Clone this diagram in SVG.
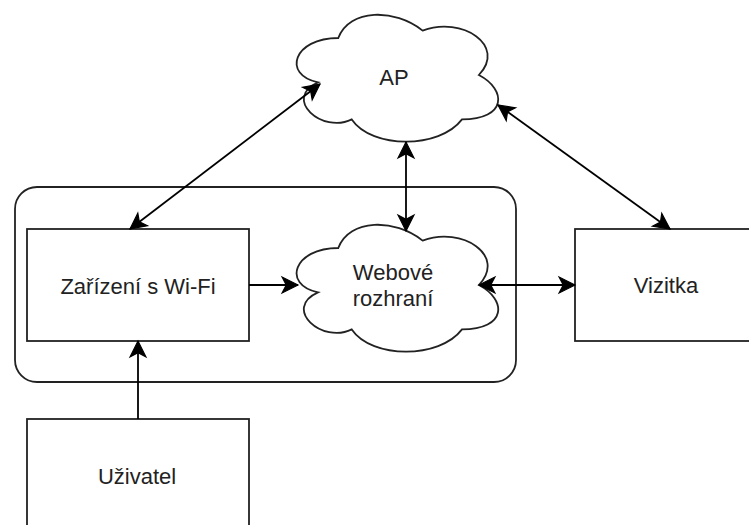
<svg xmlns="http://www.w3.org/2000/svg" width="749" height="525" viewBox="0 0 749 525">
<defs>
<style>
.box{fill:#fff;stroke:#222;stroke-width:1.8}
.cont{fill:none;stroke:#222;stroke-width:1.8}
.cloud{fill:#fff;stroke:#222;stroke-width:1.8}
.lbl{font-family:"Liberation Sans",Arial,sans-serif;font-size:22px;fill:#222;text-anchor:middle}
.edge{fill:none;stroke:#000;stroke-width:1.8}
</style>
<marker id="arr" markerUnits="userSpaceOnUse" markerWidth="20" markerHeight="20" viewBox="-15 -8 17 16" refX="0" refY="0" orient="auto-start-reverse">
<path d="M0,0 L-13.5,-6.75 L-10,0 L-13.5,6.75 Z" fill="#000" stroke="#000" stroke-width="1"/>
</marker>
<path id="cloudShape" d="M 56.25 37 C 11.25 37 0 74 36 81.4 C 0 97.68 40.5 133.2 69.75 118.4 C 90 148 157.5 148 180 118.4 C 225 118.4 225 88.8 196.88 74 C 225 44.4 180 14.8 140.63 29.6 C 112.5 7.4 67.5 7.4 56.25 37 Z"/>
</defs>
<rect width="749" height="525" fill="#fff"/>
<g id="container">
<rect class="cont" x="15" y="187" width="501" height="195" rx="22" ry="22"/>
</g>
<g id="ap">
<use href="#cloudShape" class="cloud" transform="translate(282,1)"/>
<text class="lbl" x="394" y="85">AP</text>
</g>
<g id="webove">
<use href="#cloudShape" class="cloud" transform="translate(282,211)"/>
<text class="lbl" x="393" y="280">Webové</text>
<text class="lbl" x="393" y="306">rozhraní</text>
</g>
<g id="zarizeni">
<rect class="box" x="27" y="229" width="222" height="112"/>
<text class="lbl" x="138" y="294">Zařízení s Wi-Fi</text>
</g>
<g id="uzivatel">
<rect class="box" x="27" y="419" width="222" height="112"/>
<text class="lbl" x="137" y="484">Uživatel</text>
</g>
<g id="vizitka">
<rect class="box" x="575" y="229" width="222" height="112"/>
<text class="lbl" x="666" y="293">Vizitka</text>
</g>
<g id="connectors">
<path class="edge" d="M138,419 L138,341" marker-end="url(#arr)"/>
<path class="edge" d="M249,285 L298,285" marker-end="url(#arr)"/>
<path class="edge" d="M406,142 L406,231" marker-start="url(#arr)" marker-end="url(#arr)"/>
<path class="edge" d="M320,84 L130,229" marker-start="url(#arr)" marker-end="url(#arr)"/>
<path class="edge" d="M498,105 L670,229" marker-start="url(#arr)" marker-end="url(#arr)"/>
<path class="edge" d="M479,285 L575,285" marker-start="url(#arr)" marker-end="url(#arr)"/>
</g>
</svg>
